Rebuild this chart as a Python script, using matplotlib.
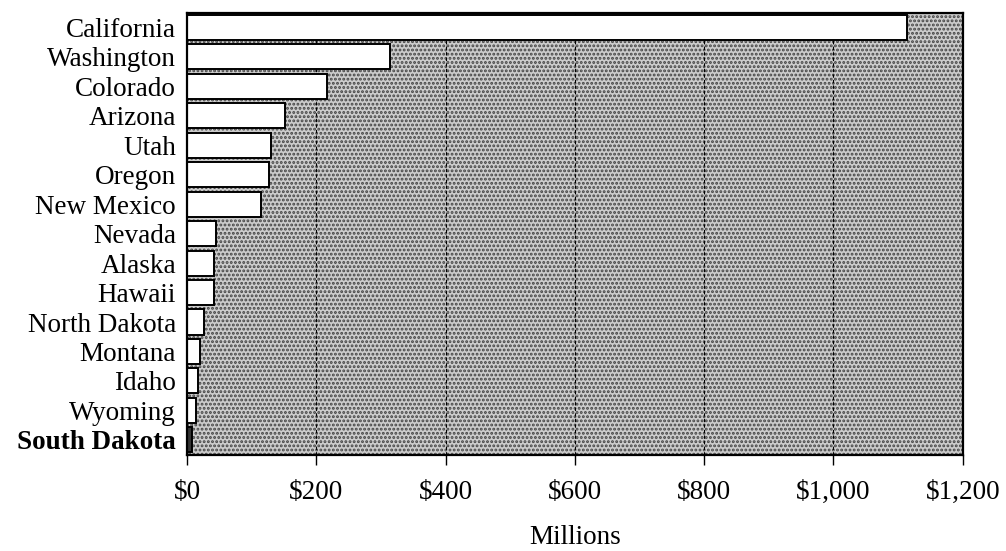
import matplotlib
matplotlib.use('Agg')
import matplotlib.pyplot as plt
from matplotlib.patches import Rectangle
from matplotlib.ticker import FuncFormatter
import numpy as np

states = ['California', 'Washington', 'Colorado', 'Arizona', 'Utah', 'Oregon',
          'New Mexico', 'Nevada', 'Alaska', 'Hawaii', 'North Dakota', 'Montana',
          'Idaho', 'Wyoming', 'South Dakota']
values = [1113, 314, 216, 152, 130, 127, 114, 45, 42, 41, 26, 20, 17, 14, 8]
highlight = 'South Dakota'
xticks = [0, 200, 400, 600, 800, 1000, 1200]

plt.rcParams['font.family'] = ['Liberation Serif', 'DejaVu Serif']
plt.rcParams['hatch.linewidth'] = 1.4

fig = plt.figure(figsize=(10.06, 5.51), dpi=100)
ax = fig.add_axes([0.186, 0.175, 0.771, 0.802])

# stippled background
ax.set_facecolor('#cccccc')
ax.add_patch(Rectangle((0, 0), 1, 1, transform=ax.transAxes, facecolor='none',
                       edgecolor='#444444', hatch='....', lw=0, zorder=0))

y = np.arange(len(states))
colors = ['#333333' if s == highlight else 'white' for s in states]
ax.barh(y, values, height=0.85, color=colors, edgecolor='black', linewidth=1.4, zorder=3)

ax.set_xlim(0, 1200)
ax.set_ylim(len(states) - 0.5, -0.5)
ax.set_xticks(xticks)
ax.xaxis.set_major_formatter(FuncFormatter(lambda v, p: f'${int(v):,}'))
ax.tick_params(axis='x', direction='out', length=7, width=1, labelsize=19.5, pad=11)
ax.set_yticks(y)
ax.set_yticklabels(states, fontsize=19.5)
ax.tick_params(axis='y', length=0, pad=8)
for lbl in ax.get_yticklabels():
    if lbl.get_text() == highlight:
        lbl.set_fontweight('bold')

for v in xticks[1:-1]:
    ax.axvline(v, color='black', lw=0.8, ls=(0, (3, 2)), zorder=1)

for side in ['top', 'right', 'bottom', 'left']:
    ax.spines[side].set_linewidth(1.6)
    ax.spines[side].set_zorder(4)

ax.set_xlabel('Millions', fontsize=19.5, labelpad=15)

fig.savefig('out.png', dpi=100)
